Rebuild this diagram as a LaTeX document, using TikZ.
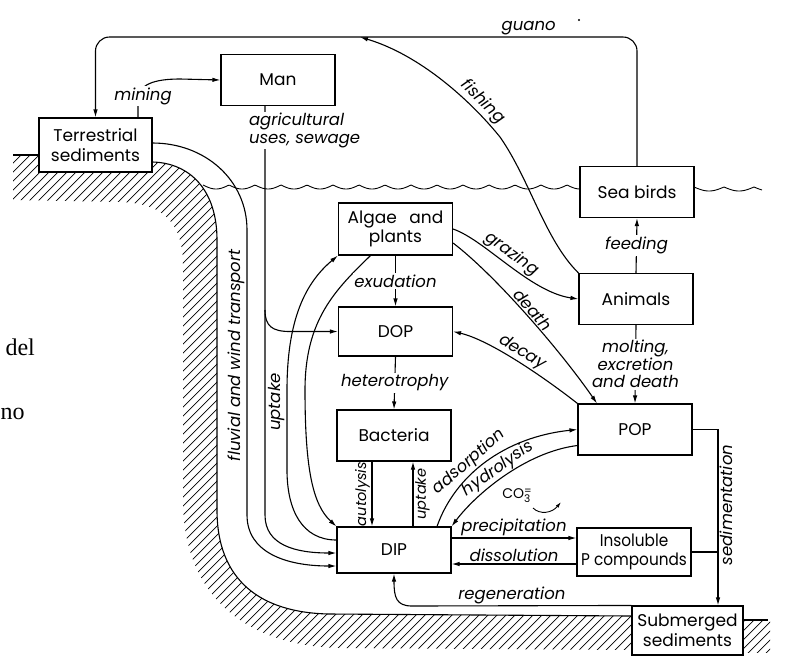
\documentclass[tikz,border=0pt]{standalone}
\usepackage{fontspec}
\usepackage{graphicx}
\setmainfont{Poppins}
\newfontfamily\pagefont{Liberation Serif}
\usetikzlibrary{arrows.meta}

\begin{document}
\begin{tikzpicture}[x=1pt, y=-1pt, line width=1.1pt,
  >={Latex[length=8pt,width=4.5pt]},
  box/.style={draw, fill=white, minimum width=114pt, minimum height=51pt,
    inner sep=1pt, align=center, font=\fontsize{17}{19.5}\selectfont},
  lbl/.style={font=\fontsize{16.5}{17.5}\selectfont\itshape, inner sep=1.5pt},
  small/.style={lbl, font=\fontsize{14.5}{16}\selectfont\itshape},
  gap/.style={lbl, fill=white}]

  \useasboundingbox (0,0) rectangle (794,657);

  %% ground (hatched)
  \begin{scope}
    \clip (13,155) -- (39,155) -- (39,172) -- (152,172) -- (152,162)
      .. controls (190,163) and (217,190) .. (217,240) -- (217,510)
      .. controls (217,580) and (260,613) .. (330,614) -- (632,616)
      -- (632,650) -- (340,648) .. controls (245,646) and (183,595) .. (183,500)
      -- (183,265) .. controls (183,225) and (165,203) .. (120,202) -- (13,200) -- cycle;
    \foreach \i in {-560,-551,...,640}
      \draw[line width=0.7pt] (\i,700) -- ++(700,-700);
  \end{scope}
  \begin{scope}
    \clip (743,620) rectangle (770,652);
    \foreach \i in {656,665,...,736}
      \draw[line width=0.7pt] (\i,700) -- ++(700,-700);
  \end{scope}

  %% sea surface
  \draw[line width=0.9pt] plot[domain=0:377, samples=300] ({203+\x},{185+4*abs(sin(6.923*\x))});
  \draw[line width=0.9pt] plot[domain=0:68, samples=100] ({694+\x},{187+4*abs(sin(6*\x))});

  %% compartments
  \node[box] (man) at (278,80) {Man};
  \node[box, minimum width=113pt, minimum height=54pt] (terr) at (95.5,145) {Terrestrial\\sediments};
  \node[box] (birds) at (637,192) {Sea birds};
  \node[box, minimum height=52pt] (algae) at (395.5,229) {Algae\hspace{8pt} and\\plants};
  \node[box] (animals) at (636,299) {Animals};
  \node[box, minimum height=49pt] (dop) at (395.5,331.5) {DOP};
  \node[box] (bact) at (394,435.5) {Bacteria};
  \node[box, minimum height=46pt] (dip) at (394,550) {DIP};
  \node[box] (pop) at (635,429.5) {POP};
  \node[box, minimum height=48pt] (insol) at (634,552) {\scalebox{0.9}[1]{Insoluble}\\\scalebox{0.9}[1]{P compounds}};
  \node[box, minimum width=111pt, minimum height=49pt] (subm) at (687.5,630.5) {Submerged\\sediments};

  %% ground surface
  \draw ([yshift=-10pt]terr.west) -- (13,155);
  \draw ([yshift=-17pt]terr.east) .. controls (190,163) and (217,190) .. (217,240) -- (217,510)
    .. controls (217,580) and (260,613) .. (330,614) -- ([yshift=14.5pt]subm.west);
  \draw ([yshift=10.5pt]subm.east) -- (768,620);

  %% Birds -> Terrestrial
  \draw[->, rounded corners=14pt] (birds.north) |- node[lbl, above, pos=0.6] {guano}
    (terr.north |- 0,37) -- (terr.north);
  \fill (579,20) circle (1.1pt);

  %% Animals -> guano line
  \coordinate (fsh) at (360,37);
  \draw[<-] (fsh) .. controls (420,55) and (470,100) .. node[lbl, sloped, above, pos=0.76] {fishing}
    (500,137) .. controls (530,180) and (545,240) .. (animals.north west);

  %% Terrestrial -> Man
  \draw[->] ([xshift=42.5pt]terr.north) -- (138,100) .. controls (138,84) and (155,79) .. (180,79) -- (man.west);
  \node[gap] (mining) at (143,96) {mining};

  %% Man -> DIP, Man -> DOP
  \draw[->] ([xshift=-13pt]man.south) -- (265,515) .. controls (265,545) and (295,553) .. ([yshift=-3pt]dip.west);
  \coordinate (br) at (265,310);
  \draw[->] (br) .. controls (265,326) and (272,331.5) .. (290,331.5) -- (dop.west);
  \node[gap, align=left, anchor=north west] (agri) at (247,111) {agricultural\\uses, sewage};

  %% Terrestrial -> DIP
  \draw[->] ([yshift=2pt]terr.east) .. controls (205,143) and (247,180) .. (247,230)
    -- node[lbl, rotate=90, anchor=south, pos=0.44] {fluvial and wind transport} (247,515)
    .. controls (247,552) and (285,566) .. ([yshift=-16pt]dip.west);

  %% DIP -> Algae
  \draw[->] ([yshift=10pt]dip.west) .. controls (302,540) and (287,510) .. (287,470)
    -- node[lbl, rotate=90, anchor=south, pos=0.85] {uptake} (287,390)
    .. controls (287,320) and (305,283) .. (algae.south west);

  %% Algae -> DIP
  \draw[->] ([xshift=-25pt]algae.south) .. controls (335,290) and (305,320) .. (305,390)
    .. controls (305,470) and (313,505) .. (dip.north west);

  %% Algae -> DOP -> Bacteria
  \draw[->] (algae.south) -- node[gap] {exudation} (dop.north);
  \draw[->] (dop.south) -- node[gap] {heterotrophy} (bact.north);

  %% Bacteria <-> DIP
  \draw[->] ([xshift=-22pt]bact.south) -- node[small, rotate=90, anchor=south] {autolysis} ([xshift=-22pt]dip.north);
  \draw[->] ([xshift=19pt]dip.north) -- node[small, rotate=90, anchor=north] {uptake} ([xshift=19pt]bact.south);

  %% Algae -> Animals, Algae -> POP, POP -> DOP
  \draw[->] (algae.east) .. controls (485,240) and (530,292) .. node[lbl, sloped, above, pos=0.47] {grazing} (animals.west);
  \draw[->] ([yshift=-14pt]algae.east) .. controls (495,275) and (560,350) .. node[lbl, sloped, above, pos=0.5] {death} ([xshift=-38pt]pop.north);
  \draw[<-] (dop.east) .. controls (490,340) and (545,378) .. node[lbl, sloped, above, pos=0.5] {decay} (pop.north west);

  %% Animals -> POP, Animals -> Birds
  \draw[->] (animals.south) -- node[gap, align=center] {molting,\\excretion\\and death} (pop.north);
  \draw[->] (animals.north) -- node[gap] {feeding} (birds.south);

  %% DIP <-> POP
  \draw[->] ([xshift=43pt]dip.north) .. controls (455,475) and (505,437) .. node[lbl, sloped, above, pos=0.42] {adsorption} (pop.west);
  \draw[<-] (dip.north east) .. controls (475,495) and (525,452) .. node[lbl, sloped, above, pos=0.5, inner sep=0.5pt] {hydrolysis} ([yshift=-16pt]pop.west);

  %% DIP <-> Insoluble
  \node[font=\fontsize{14}{15}\selectfont, inner sep=1pt] (co3) at (517,496) {CO\rlap{\raisebox{-4pt}{\fontsize{10.5}{11}\selectfont 3}}\raisebox{4.5pt}{\fontsize{10.5}{11}\selectfont =}};
  \draw[-{Latex[length=6pt,width=3.5pt]}, line width=0.9pt] (533,508) .. controls (540,515) and (552,513) .. (561,502);
  \draw[->] ([yshift=12pt]dip.east) -- node[lbl, above] {precipitation} ([yshift=12pt]dip.east -| insol.west);
  \draw[->] ([yshift=-12pt]insol.west) -- node[lbl, above] {dissolution} ([yshift=-12pt]insol.west -| dip.east);

  %% Submerged -> DIP
  \draw[->] (subm.north west) -- node[lbl, above, pos=0.545] {regeneration} (412,606)
    .. controls (396,606) and (394,597) .. (dip.south);

  %% POP, Insoluble -> Submerged
  \coordinate (sed) at ([xshift=30.5pt]subm.north);
  \draw[->] (pop.east) -| node[lbl, rotate=90, anchor=north, pos=0.72, xshift=2pt] {sedimentation} (sed);
  \draw (insol.east) -- (insol.east -| sed);

  %% page text
  \node[font=\pagefont\fontsize{24}{26}\selectfont, anchor=base west, inner sep=0pt] (del) at (5,355) {del};
  \node[font=\pagefont\fontsize{24}{26}\selectfont, anchor=base west, inner sep=0pt] (no) at (0,419) {no};
\end{tikzpicture}
\end{document}
